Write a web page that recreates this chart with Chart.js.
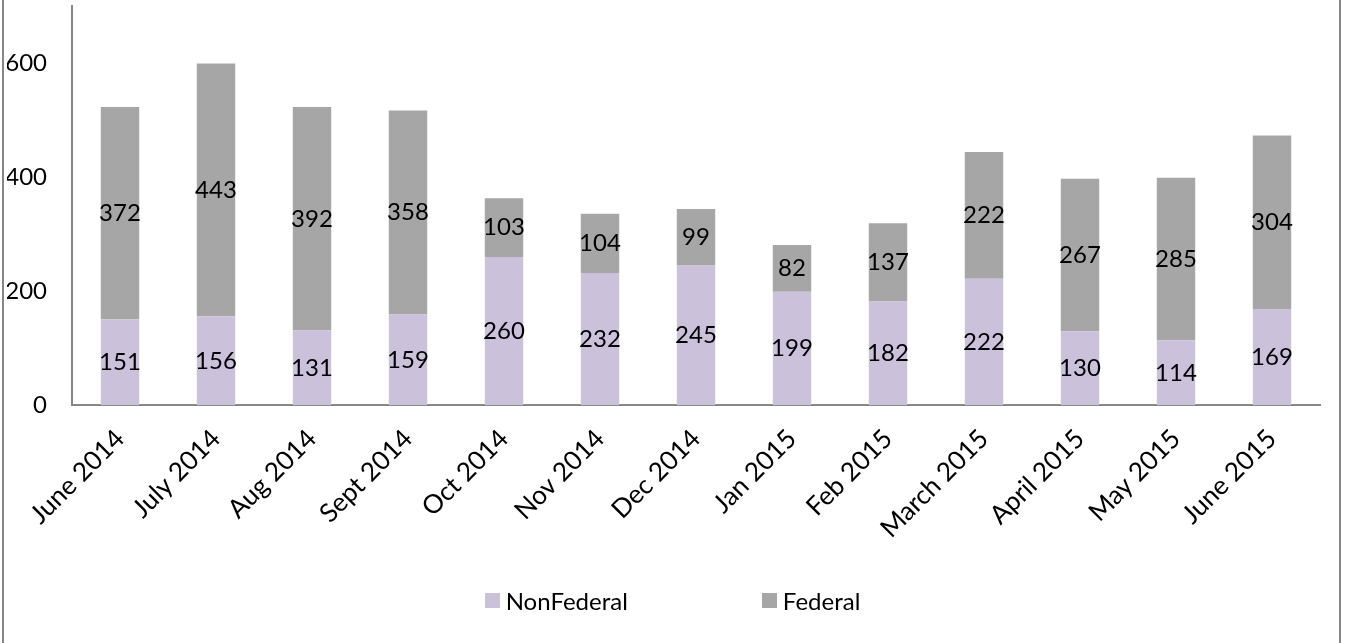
<!DOCTYPE html>
<html>
<head>
<meta charset="utf-8">
<script src="https://cdn.jsdelivr.net/npm/chart.js@4.4.1/dist/chart.umd.min.js"></script>
<style>
  html, body { margin: 0; padding: 0; background: #fff; }
  #wrap { position: relative; width: 1345px; height: 643px; overflow: hidden; }
  #frame { position: absolute; left: 2px; top: 0; width: 1335px; height: 643px;
           border-left: 2px solid #868686; border-right: 2px solid #868686; box-sizing: content-box; }
  #chart-box { position: absolute; left: 0; top: 0; width: 1345px; height: 643px; }
  #legend { position: absolute; left: 0; top: 586px; width: 1345px; display: flex; justify-content: center;
            font: 24px Lato, sans-serif; color: #000; }
  .item { display: flex; align-items: center; }
  .item + .item { margin-left: 134px; }
  .swatch { width: 15px; height: 15px; margin-right: 6px; }
</style>
</head>
<body>
<div id="wrap">
  <div id="frame"></div>
  <div id="chart-box"><canvas id="chart"></canvas></div>
  <div id="legend"></div>
</div>
<script>
// Дані з графіка
const months = ['June 2014', 'July 2014', 'Aug 2014', 'Sept 2014', 'Oct 2014', 'Nov 2014', 'Dec 2014',
                'Jan 2015', 'Feb 2015', 'March 2015', 'April 2015', 'May 2015', 'June 2015'];
const nonFederal = [151, 156, 131, 159, 260, 232, 245, 199, 182, 222, 130, 114, 169];
const federal = [372, 443, 392, 358, 103, 104, 99, 82, 137, 222, 267, 285, 304];
const yTicks = [0, 200, 400, 600];

const colors = { nonFederal: '#CCC1DA', federal: '#A6A6A6', axis: '#868686' };

// Підписи значень по центру кожного сегмента
const barLabels = {
    id: 'barLabels',
    afterDatasetsDraw(chart) {
        const ctx = chart.ctx;
        ctx.save();
        ctx.font = '24px Lato, sans-serif';
        ctx.fillStyle = '#000';
        ctx.textAlign = 'center';
        ctx.textBaseline = 'middle';
        chart.data.datasets.forEach((ds, i) => {
            chart.getDatasetMeta(i).data.forEach((bar, j) => {
                const { x, y, base } = bar.getProps(['x', 'y', 'base'], true);
                ctx.fillText(ds.data[j], x, (y + base) / 2);
            });
        });
        ctx.restore();
    }
};

const chart = new Chart(document.getElementById('chart'), {
    type: 'bar',
    data: {
        labels: months,
        datasets: [
            { label: 'NonFederal', data: nonFederal, backgroundColor: colors.nonFederal },
            { label: 'Federal', data: federal, backgroundColor: colors.federal }
        ]
    },
    options: {
        responsive: true,
        maintainAspectRatio: false,
        animation: false,
        datasets: { bar: { categoryPercentage: 1, barPercentage: 0.4 } },
        layout: { padding: { left: 7, right: 25, top: 6, bottom: 81 } },
        plugins: { legend: { display: false }, tooltip: { enabled: false } },
        scales: {
            x: {
                stacked: true,
                grid: { display: false, drawTicks: false },
                border: { display: true, color: colors.axis, width: 2 },
                ticks: {
                    color: '#000', font: { family: 'Lato', size: 26 },
                    minRotation: 45, maxRotation: 45, padding: 18, autoSkip: false
                },
                // підписи під кутом не повинні зсувати область графіка
                afterFit: (s) => { s.paddingLeft = 0; s.paddingRight = 0; }
            },
            y: {
                stacked: true,
                min: 0, max: 700,
                afterBuildTicks: (axis) => { axis.ticks = yTicks.concat([700]).map(v => ({ value: v })); },
                grid: { display: false, drawTicks: false },
                border: { display: true, color: colors.axis, width: 2 },
                ticks: {
                    color: '#000', font: { family: 'Lato', size: 24 }, padding: 25,
                    callback: (v) => yTicks.includes(v) ? v : null
                },
                afterFit: (s) => { s.width = 65; s.paddingTop = 0; s.paddingBottom = 0; }
            }
        }
    },
    plugins: [barLabels]
});

// Легенда
const legend = document.getElementById('legend');
chart.data.datasets.forEach(ds => {
    const item = document.createElement('div');
    item.className = 'item';
    item.innerHTML = `<span class="swatch" style="background:${ds.backgroundColor}"></span><span>${ds.label}</span>`;
    legend.appendChild(item);
});
</script>
</body>
</html>
